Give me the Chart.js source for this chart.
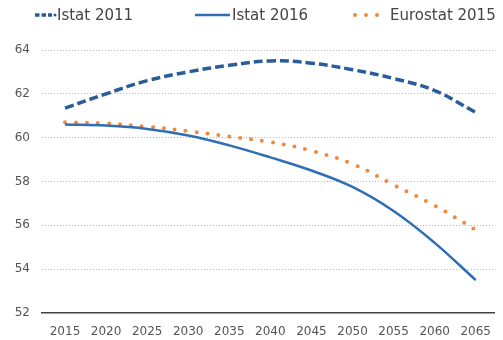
<!DOCTYPE html>
<html>
<head>
<meta charset="utf-8">
<script src="https://cdn.jsdelivr.net/npm/chart.js@4"></script>
<style>
  html, body { margin: 0; padding: 0; background: #fff; }
  #wrap { position: relative; width: 503px; height: 340px; }
  .leg { position: absolute; top: 5px; height: 20px; line-height: 20px; font-family: "DejaVu Sans", sans-serif; font-size: 15px; color: #444; white-space: nowrap; }
  .leg svg { position: absolute; top: 0; }
  canvas { position: absolute; left: 0; top: 0; }
</style>
</head>
<body>
<div id="wrap">
  <canvas id="c" width="503" height="340"></canvas>
  <div class="leg" style="left:0"><svg width="57" height="20" style="left:0"><line x1="35" y1="10" x2="52" y2="10" stroke="#2a5c9a" stroke-width="3.5" stroke-dasharray="4.5,2"/><circle cx="55" cy="10" r="1.5" fill="#2a5c9a"/></svg><span style="position:absolute;left:57px">Istat 2011</span></div>
  <div class="leg" style="left:0"><svg width="231" height="20" style="left:0"><line x1="195" y1="10" x2="230" y2="10" stroke="#2f6eb5" stroke-width="2.5"/></svg><span style="position:absolute;left:232px">Istat 2016</span></div>
  <div class="leg" style="left:0"><svg width="390" height="20" style="left:0"><line x1="355" y1="10" x2="384" y2="10" stroke="#f0883e" stroke-width="4" stroke-linecap="round" stroke-dasharray="0,11"/></svg><span style="position:absolute;left:390px">Eurostat 2015</span></div>
</div>
<script>
const years = [2015, 2020, 2025, 2030, 2035, 2040, 2045, 2050, 2055, 2060, 2065];
const istat2011 = [61.35, 62.0, 62.6, 63.0, 63.3, 63.5, 63.4, 63.1, 62.7, 62.15, 61.15];
const istat2016 = [60.6, 60.55, 60.4, 60.1, 59.65, 59.1, 58.5, 57.75, 56.65, 55.2, 53.5];
const eurostat2015 = [60.7, 60.65, 60.5, 60.3, 60.05, 59.8, 59.4, 58.8, 57.85, 56.9, 55.8];
const yTicks = [52, 54, 56, 58, 60, 62, 64];

const toXY = arr => arr.map((v, i) => ({x: years[i], y: v}));

new Chart(document.getElementById('c'), {
  type: 'line',
  data: {
    datasets: [
      { label: 'Istat 2011', data: toXY(istat2011), borderColor: '#2a5c9a', borderWidth: 3.5, borderDash: [9, 4], tension: 0.4, pointRadius: 0, fill: false },
      { label: 'Istat 2016', data: toXY(istat2016), borderColor: '#2f6eb5', borderWidth: 2.5, tension: 0.4, pointRadius: 0, fill: false },
      { label: 'Eurostat 2015', data: toXY(eurostat2015), borderColor: '#f0883e', borderWidth: 4, borderDash: [0, 11], borderCapStyle: 'round', tension: 0.4, pointRadius: 0, fill: false }
    ]
  },
  options: {
    responsive: false,
    animation: false,
    layout: { padding: { top: 50, left: 0, right: 0, bottom: 0 } },
    plugins: { legend: { display: false }, tooltip: { enabled: false } },
    scales: {
      x: {
        type: 'linear',
        min: 2012.2,
        max: 2067.3,
        afterBuildTicks: s => { s.ticks = years.map(v => ({value: v})); },
        afterFit: s => { s.height = 27; },
        grid: { display: false, drawTicks: false },
        border: { display: true, color: '#444', width: 1.5 },
        ticks: { padding: 12, maxRotation: 0, autoSkip: false, color: '#555', font: { family: 'DejaVu Sans', size: 12 }, callback: v => String(v) }
      },
      y: {
        min: 52,
        max: 64,
        afterBuildTicks: s => { s.ticks = yTicks.map(v => ({value: v})); },
        afterFit: s => { s.width = 42; },
        grid: { drawTicks: false, color: ctx => (ctx.tick && ctx.tick.value === 52) ? 'rgba(0,0,0,0)' : '#b8b8b8', lineWidth: 1 },
        border: { display: false, dash: [1, 2] },
        ticks: { padding: 12, color: '#555', font: { family: 'DejaVu Sans', size: 12 } }
      }
    }
  }
});
</script>
</body>
</html>
